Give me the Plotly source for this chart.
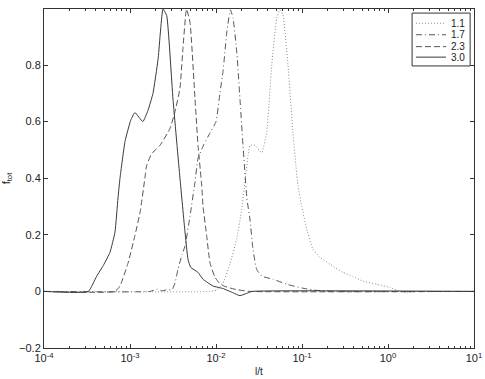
import plotly.graph_objects as go

# ── Data ───────────────────────────────────────────────────────────────────
x_11 = [1e-4, 8.5e-3, 1.02e-2, 1.21e-2, 1.46e-2, 1.74e-2, 1.99e-2, 2.17e-2, 2.36e-2,
        2.48e-2, 2.84e-2, 3.40e-2, 3.89e-2, 4.45e-2, 5.08e-2, 5.55e-2, 6.01e-2,
        6.87e-2, 7.85e-2, 8.98e-2, 9.93e-2, 0.1135, 0.134, 0.162, 0.212, 0.300,
        0.392, 0.512, 0.745, 1.05, 1.38, 1.66, 2.17, 10.0]
y_11 = [0, 0, 0.005, 0.03, 0.10, 0.185, 0.29, 0.387, 0.48,
        0.516, 0.516, 0.49, 0.564, 0.80, 0.966, 0.995, 0.977,
        0.80, 0.56, 0.373, 0.30, 0.22, 0.149, 0.12, 0.096, 0.067,
        0.053, 0.036, 0.025, 0.014, 0.0, -0.005, 0.0, 0.0]

x_17 = [1e-4, 1.71e-3, 2.06e-3, 2.36e-3, 2.70e-3, 3.08e-3, 3.34e-3, 3.61e-3, 4.03e-3,
        4.36e-3, 4.99e-3, 5.70e-3, 6.18e-3, 7.24e-3, 8.52e-3, 1.0e-2, 1.11e-2,
        1.21e-2, 1.34e-2, 1.47e-2, 1.58e-2, 1.75e-2, 1.90e-2, 2.06e-2, 2.29e-2,
        2.48e-2, 2.69e-2, 2.97e-2, 3.40e-2, 4.60e-2, 6.70e-2, 0.1, 0.134, 0.212, 10.0]
y_17 = [0, 0, 0.008, 0.002, 0.006, 0.006, 0.03, 0.078, 0.13,
        0.16, 0.267, 0.387, 0.47, 0.52, 0.56, 0.60, 0.70,
        0.78, 0.92, 0.995, 0.966, 0.84, 0.68, 0.516, 0.327,
        0.256, 0.149, 0.078, 0.054, 0.043, 0.025, 0.012, 0.005, 0.0, 0.0]

x_23 = [1e-4, 6.69e-4, 7.65e-4, 9.48e-4, 1.14e-3, 1.31e-3, 1.49e-3, 1.56e-3, 1.79e-3,
        2.23e-3, 2.92e-3, 3.34e-3, 3.81e-3, 4.13e-3, 4.54e-3, 4.99e-3, 5.70e-3,
        6.18e-3, 6.83e-3, 7.07e-3, 7.80e-3, 8.52e-3, 9.73e-3, 1.09e-2, 1.21e-2,
        1.46e-2, 1.75e-2, 2.48e-2, 10.0]
y_23 = [0, 0, 0.019, 0.10, 0.197, 0.28, 0.40, 0.445, 0.487,
        0.516, 0.576, 0.636, 0.718, 0.86, 0.998, 0.95, 0.68,
        0.516, 0.373, 0.30, 0.195, 0.10, 0.05, 0.03, 0.02,
        0.012, 0.006, 0.0, 0.0]

x_30 = [1e-4, 3.27e-4, 4.10e-4, 4.90e-4, 5.85e-4, 6.69e-4, 7.25e-4, 7.65e-4, 8.75e-4,
        1.02e-3, 1.14e-3, 1.41e-3, 1.62e-3, 1.85e-3, 2.12e-3, 2.42e-3, 2.67e-3,
        3.16e-3, 3.81e-3, 4.36e-3, 4.72e-3, 5.08e-3, 6.18e-3, 7.07e-3, 9.23e-3,
        1.21e-2, 1.58e-2, 1.90e-2, 2.36e-2, 2.62e-2, 10.0]
y_30 = [0, 0, 0.054, 0.092, 0.138, 0.21, 0.33, 0.40, 0.53,
        0.605, 0.632, 0.60, 0.64, 0.70, 0.82, 0.998, 0.975,
        0.68, 0.40, 0.21, 0.114, 0.085, 0.067, 0.043, 0.019,
        0.01, -0.005, -0.015, -0.005, 0.0, 0.0]

names = ["1.1", "1.7", "2.3", "3.0"]
x_tick_vals = [1e-4, 1e-3, 1e-2, 1e-1, 1e0, 1e1]
x_tick_text = ["10<sup>-4</sup>", "10<sup>-3</sup>", "10<sup>-2</sup>",
               "10<sup>-1</sup>", "10<sup>0</sup>", "10<sup>1</sup>"]
y_tick_vals = [-0.2, 0, 0.2, 0.4, 0.6, 0.8]
y_tick_text = ["\u22120.2", "0", "0.2", "0.4", "0.6", "0.8"]

FONT = "Liberation Sans, Arial, sans-serif"
INK = "#333333"
# line style per series: (dash pattern, colour)
styles = [
    ("1px,2px", "#8a8a8a"),
    ("6px,3px,1px,3px", "#555555"),
    ("6px,3px", "#555555"),
    ("solid", "#3a3a3a"),
]
series = [(x_11, y_11), (x_17, y_17), (x_23, y_23), (x_30, y_30)]

fig = go.Figure()
for name, (xs, ys), (dash, col) in zip(names, series, styles):
    fig.add_trace(go.Scatter(
        x=xs, y=ys, mode="lines", name=name, showlegend=False,
        line=dict(color=col, width=1, dash=dash, shape="spline", smoothing=0.4),
    ))

# hand-made legend box (matlab style, compact rows)
fig.add_shape(type="rect", xref="paper", yref="paper",
              x0=0.856, x1=0.991, y0=0.832, y1=0.988,
              line=dict(color=INK, width=1), fillcolor="white", layer="above")
row_y = [0.958, 0.924, 0.889, 0.858]
for name, (dash, col), ry in zip(names, styles, row_y):
    fig.add_shape(type="line", xref="paper", yref="paper",
                  x0=0.865, x1=0.935, y0=ry, y1=ry,
                  line=dict(color=col, width=1, dash=dash), layer="above")
    fig.add_annotation(xref="paper", yref="paper", x=0.984, y=ry,
                       text=name, showarrow=False, xanchor="right", yanchor="middle",
                       font=dict(family=FONT, size=10, color="#222222"))

axis_common = dict(
    showline=True, linecolor=INK, linewidth=1, mirror="ticks",
    ticks="inside", tickcolor=INK, ticklen=4,
    showgrid=False, zeroline=False, automargin=False,
    tickfont=dict(family=FONT, size=11, color="#222222"),
)

fig.update_layout(
    width=485, height=379,
    paper_bgcolor="white", plot_bgcolor="white",
    margin=dict(l=44, r=11, t=9, b=31),
    font=dict(family=FONT, size=11, color="#222222"),
    showlegend=False,
    xaxis=dict(
        type="log", range=[-4, 1],
        tickvals=x_tick_vals, ticktext=x_tick_text,
        minor=dict(ticks="inside", ticklen=2, tickcolor=INK, dtick="D1"),
        title=dict(text="l/t", font=dict(size=10), standoff=4),
        **axis_common,
    ),
    yaxis=dict(
        range=[-0.2, 0.998],
        tickvals=y_tick_vals, ticktext=y_tick_text,
        title=dict(text="f<sub>tot</sub>", font=dict(size=11), standoff=6),
        **axis_common,
    ),
)

# the page body has a default 8px margin; drop it so the figure sits at 0,0
fig.write_html("out.html", config={"displayModeBar": False},
               post_script="document.body.style.margin='0';")
